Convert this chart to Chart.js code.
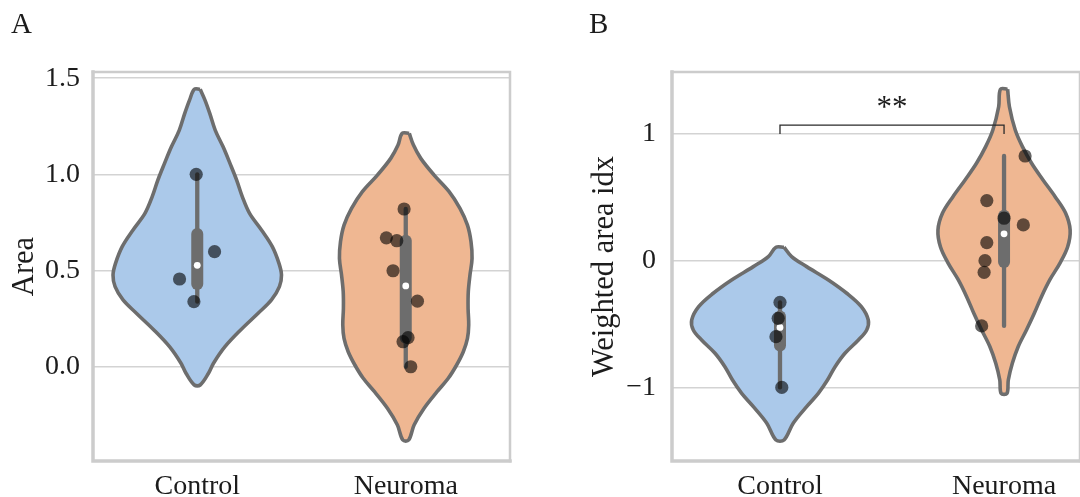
<!DOCTYPE html>
<html>
<head>
<meta charset="utf-8">
<script src="https://cdn.jsdelivr.net/npm/chart.js@4/dist/chart.umd.min.js"></script>
<style>
  html, body { margin: 0; padding: 0; background: #ffffff; }
  #wrap { position: relative; width: 1080px; height: 497px; overflow: hidden; }
  canvas { position: absolute; top: 0; }
  #panelA { left: 0; }
  #panelB { left: 540px; }
</style>
</head>
<body>
<div id="wrap">
  <canvas id="panelA" width="540" height="497" style="width:540px;height:497px"></canvas>
  <canvas id="panelB" width="540" height="497" style="width:540px;height:497px"></canvas>
</div>
<script>
// ---------- data ----------
const categories = ['Control', 'Neuroma'];

// Panel A: Area
const areaTicks = [0, 0.5, 1.0, 1.5];
const areaTickLabels = ['0.0', '0.5', '1.0', '1.5'];
const areaControl = [1.0, 0.598, 0.456, 0.338];
const areaControlJitter = [-0.005, 0.083, -0.085, -0.016];
const areaNeuroma = [0.82, 0.67, 0.655, 0.499, 0.341, 0.151, 0.13, 0.0];
const areaNeuromaJitter = [-0.008, -0.093, -0.043, -0.061, 0.056, 0.011, -0.013, 0.024];
// box summaries: [lower whisker, q1, median, q3, upper whisker]
const areaControlBox = [0.338, 0.43, 0.527, 0.69, 1.0];
const areaNeuromaBox = [0.0, 0.15, 0.42, 0.655, 0.82];
// violin outlines: density half-width (category units) at each level, top to bottom
const areaControlLevels = [1.442, 1.386, 1.317, 1.230, 1.143, 1.057, 0.970, 0.884, 0.797, 0.711, 0.624, 0.537, 0.477, 0.416, 0.347, 0.278, 0.191, 0.104, 0.018, -0.034, -0.095];
const areaControlWidths = [0.014, 0.037, 0.060, 0.086, 0.124, 0.157, 0.189, 0.216, 0.251, 0.308, 0.360, 0.392, 0.404, 0.394, 0.356, 0.292, 0.208, 0.133, 0.078, 0.054, 0.014];
const areaNeuromaLevels = [1.213, 1.152, 1.083, 0.996, 0.910, 0.823, 0.736, 0.650, 0.563, 0.477, 0.390, 0.303, 0.217, 0.147, 0.078, 0.009, -0.060, -0.130, -0.216, -0.303, -0.381];
const areaNeuromaWidths = [0.017, 0.037, 0.072, 0.136, 0.208, 0.260, 0.296, 0.313, 0.318, 0.308, 0.300, 0.299, 0.302, 0.296, 0.276, 0.244, 0.204, 0.150, 0.088, 0.040, 0.014];

// Panel B: Weighted area idx
const idxTicks = [-1, 0, 1];
const idxTickLabels = ['\u22121', '0', '1'];
const idxControl = [-0.329, -0.455, -0.600, -1.0];
const idxControlJitter = [0, -0.008, -0.018, 0.008];
const idxNeuroma = [0.826, 0.474, 0.335, 0.282, 0.142, 0.0, -0.092, -0.515];
const idxNeuromaJitter = [0.094, -0.077, 0, 0.086, -0.077, -0.085, -0.089, -0.100];
const idxControlBox = [-1.0, -0.67, -0.527, -0.44, -0.329];
const idxNeuromaBox = [-0.515, -0.01, 0.212, 0.355, 0.826];
const idxControlLevels = [0.106, 0.032, -0.047, -0.152, -0.257, -0.363, -0.468, -0.547, -0.626, -0.731, -0.837, -0.942, -1.047, -1.152, -1.283, -1.415];
const idxControlWidths = [0.018, 0.052, 0.119, 0.216, 0.298, 0.363, 0.394, 0.387, 0.350, 0.290, 0.246, 0.212, 0.171, 0.119, 0.059, 0.018];
const idxNeuromaLevels = [1.353, 1.215, 1.031, 0.900, 0.769, 0.637, 0.505, 0.374, 0.242, 0.110, -0.021, -0.152, -0.284, -0.415, -0.547, -0.679, -0.810, -0.942, -1.047];
const idxNeuromaWidths = [0.016, 0.024, 0.050, 0.082, 0.123, 0.174, 0.228, 0.275, 0.295, 0.284, 0.249, 0.204, 0.167, 0.135, 0.100, 0.063, 0.037, 0.019, 0.013];
// significance bracket between the two groups: [tip, bar]
const idxBracket = [1.0, 1.07];
const idxSignificance = '**';

// ---------- styling ----------
const SERIF = '"Liberation Serif", "Times New Roman", Times, serif';
const TEXT = '#1c1c1c';
const OUTLINE = '#6d6d6d';
const SPINE = '#cccccc';
const GRID = '#d3d3d3';
const FILLS = ['#abc9ea', '#efb792'];
const DOT = 'rgba(0,0,0,0.6)';

Chart.defaults.font.family = SERIF;
Chart.defaults.color = TEXT;

function violinOutline(center, levels, widths) {
  const right = levels.map((y, i) => ({ x: center + widths[i], y }));
  const left = levels.map((y, i) => ({ x: center - widths[i], y })).reverse();
  return right.concat(left, [right[0]]);
}

function groupDatasets(k, g) {
  return [
    { data: violinOutline(k, g.levels, g.widths), fill: 'shape', backgroundColor: FILLS[k],
      borderColor: OUTLINE, borderWidth: 3.6, tension: 0.35, borderJoinStyle: 'round',
      pointRadius: 0, order: 6 },
    { data: [{ x: k, y: g.box[0] }, { x: k, y: g.box[4] }], borderColor: OUTLINE, borderWidth: 4.3,
      borderCapStyle: 'round', pointRadius: 0, fill: false, order: 5 },
    { data: [{ x: k, y: g.box[1] }, { x: k, y: g.box[3] }], borderColor: OUTLINE, borderWidth: 12,
      borderCapStyle: 'round', pointRadius: 0, fill: false, order: 4 },
    { data: [{ x: k, y: g.box[2] }], showLine: false, pointRadius: 3.4,
      pointBackgroundColor: '#ffffff', pointBorderWidth: 0, order: 3 },
    { data: g.values.map((v, i) => ({ x: k + g.jitter[i], y: v })), showLine: false, pointRadius: 6.6,
      pointBackgroundColor: DOT, pointBorderWidth: 0, order: 2 }
  ];
}

// axes frame (spines) around the plotting area
const framePlugin = {
  id: 'frame',
  beforeDatasetsDraw(chart) {
    const { ctx, chartArea: a } = chart;
    ctx.save();
    ctx.strokeStyle = SPINE;
    ctx.lineCap = 'square';
    ctx.lineWidth = 2.5;
    ctx.beginPath();
    ctx.moveTo(a.left, a.top); ctx.lineTo(a.right, a.top);
    ctx.moveTo(a.right, a.top); ctx.lineTo(a.right, a.bottom);
    ctx.stroke();
    ctx.lineWidth = 3.5;
    ctx.beginPath();
    ctx.moveTo(a.left, a.top); ctx.lineTo(a.left, a.bottom); ctx.lineTo(a.right, a.bottom);
    ctx.stroke();
    ctx.restore();
  }
};

// panel letter and optional significance mark
const notesPlugin = {
  id: 'notes',
  afterDraw(chart, args, opts) {
    const { ctx } = chart;
    ctx.save();
    ctx.fillStyle = TEXT;
    ctx.font = '29px ' + SERIF;
    ctx.textAlign = 'left';
    ctx.textBaseline = 'alphabetic';
    ctx.fillText(opts.letter, opts.letterX, 33);
    if (opts.bracket) {
      const xs = chart.scales.x, ys = chart.scales.y;
      ctx.font = '31px ' + SERIF;
      ctx.textAlign = 'center';
      ctx.fillText(opts.mark, xs.getPixelForValue(0.5), ys.getPixelForValue(opts.bracket[1]) - 8);
    }
    ctx.restore();
  }
};

function makePanel(canvasId, cfg) {
  const datasets = [];
  cfg.groups.forEach((g, k) => datasets.push(...groupDatasets(k, g)));
  if (cfg.bracket) {
    datasets.push({
      data: [{ x: 0, y: cfg.bracket[0] }, { x: 0, y: cfg.bracket[1] }, { x: 1, y: cfg.bracket[1] }, { x: 1, y: cfg.bracket[0] }],
      borderColor: '#2a2a2a', borderWidth: 1.3, pointRadius: 0, fill: false, tension: 0, order: 1
    });
  }
  return new Chart(document.getElementById(canvasId), {
    type: 'line',
    data: { datasets },
    options: {
      responsive: false,
      animation: false,
      events: [],
      layout: { autoPadding: false, padding: cfg.padding },
      plugins: {
        legend: { display: false },
        tooltip: { enabled: false },
        notes: { letter: cfg.letter, letterX: cfg.letterX, bracket: cfg.bracket, mark: cfg.mark }
      },
      scales: {
        x: {
          type: 'linear', min: cfg.xRange[0], max: cfg.xRange[1],
          grid: { display: false }, border: { display: false },
          afterBuildTicks: s => { s.ticks = categories.map((c, i) => ({ value: i })); },
          afterFit: s => { s.height = 36; },
          ticks: { callback: v => categories[Math.round(v)], font: { size: 28 }, color: TEXT,
                   padding: 1, maxRotation: 0, autoSkip: false }
        },
        y: {
          type: 'linear', min: cfg.yRange[0], max: cfg.yRange[1],
          afterBuildTicks: s => { s.ticks = cfg.ticks.map(v => ({ value: v })); },
          afterFit: s => { s.width = cfg.yWidth; },
          grid: { color: GRID, lineWidth: 1.5, drawTicks: false },
          border: { display: false },
          ticks: { callback: v => cfg.tickLabels[cfg.ticks.indexOf(v)], font: { size: 28 }, color: TEXT,
                   padding: cfg.tickPad, autoSkip: false },
          title: { display: true, text: cfg.title, font: { size: 30.5 }, color: TEXT,
                   padding: { top: cfg.titlePad, bottom: 0 } }
        }
      }
    },
    plugins: [framePlugin, notesPlugin]
  });
}

makePanel('panelA', {
  letter: 'A', letterX: 11,
  title: 'Area',
  titlePad: 7,
  padding: { left: 0, right: 30, top: 72, bottom: 0 },
  yWidth: 93, tickPad: 13,
  xRange: [-0.5, 1.5], yRange: [-0.490, 1.532],
  ticks: areaTicks, tickLabels: areaTickLabels,
  groups: [
    { values: areaControl, jitter: areaControlJitter, box: areaControlBox, levels: areaControlLevels, widths: areaControlWidths },
    { values: areaNeuroma, jitter: areaNeuromaJitter, box: areaNeuromaBox, levels: areaNeuromaLevels, widths: areaNeuromaWidths }
  ]
});

makePanel('panelB', {
  letter: 'B', letterX: 49,
  title: 'Weighted area idx',
  titlePad: 47,
  padding: { left: 0, right: 0, top: 72, bottom: 0 },
  yWidth: 132, tickPad: 16,
  xRange: [-0.482, 1.339], yRange: [-1.581, 1.489],
  ticks: idxTicks, tickLabels: idxTickLabels,
  bracket: idxBracket, mark: idxSignificance,
  groups: [
    { values: idxControl, jitter: idxControlJitter, box: idxControlBox, levels: idxControlLevels, widths: idxControlWidths },
    { values: idxNeuroma, jitter: idxNeuromaJitter, box: idxNeuromaBox, levels: idxNeuromaLevels, widths: idxNeuromaWidths }
  ]
});
</script>
</body>
</html>
